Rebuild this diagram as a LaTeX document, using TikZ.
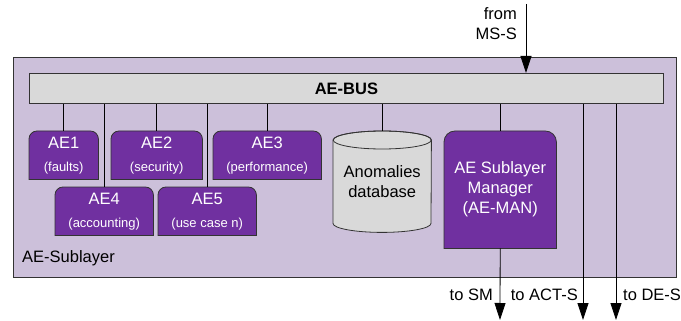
\documentclass[tikz,border=0pt]{standalone}
\usepackage{fontspec}
\setmainfont{Liberation Sans}
\usetikzlibrary{arrows.meta,calc}
\definecolor{sublayer}{RGB}{204,192,218}
\definecolor{busgray}{RGB}{217,217,217}
\definecolor{aepurple}{RGB}{112,48,160}
\newcommand{\aebig}{\fontsize{16.5}{20}\selectfont}
\newcommand{\aesmall}{\fontsize{13}{16}\selectfont}
\pgfdeclarelayer{bg}
\pgfsetlayers{bg,main}

\begin{document}
\begin{tikzpicture}[x=1pt,y=-1pt,
  frame/.style={draw=black!80,line width=0.8pt},
  aebox/.style={anchor=north west,minimum height=48pt,inner sep=0pt,text=white,align=center,font=\aebig},
  aeshape/.style={frame,fill=aepurple},
  lbl/.style={font=\aebig,inner sep=0pt},
  wire/.style={line width=0.8pt},
  arr/.style={wire,-{Triangle[length=17pt,width=11pt]}}]
\useasboundingbox (0,0) rectangle (681,321);

\node[frame,fill=busgray,anchor=north west,minimum width=634pt,minimum height=30pt,inner sep=0pt,font=\aebig\bfseries] (bus) at (29,73) {AE-BUS};

\node[aebox,minimum width=69pt] (ae1) at (29,131) {AE1\\[3pt]\aesmall(faults)};
\node[aebox,minimum width=91pt] (ae2) at (111,131) {AE2\\[3pt]\aesmall(security)};
\node[aebox,minimum width=108pt] (ae3) at (213,131) {AE3\\[3pt]\aesmall(performance)};
\node[aebox,minimum width=98pt] (ae4) at (55,187) {AE4\\[3pt]\aesmall(accounting)};
\node[aebox,minimum width=98pt] (ae5) at (158,187) {AE5\\[3pt]\aesmall(use case n)};
\node[anchor=north west,minimum width=98pt,minimum height=101pt,inner sep=0pt,align=center,font=\aebig] (db) at (333,131) {Anomalies\\database};
\node[aebox,minimum width=112pt,minimum height=117pt] (man) at (444,131) {AE Sublayer\\Manager\\(AE-MAN)};
\node[lbl,anchor=west] (sub) at (22,258) {AE-Sublayer};

\foreach \n in {ae1,ae2,ae3,ae4,ae5,db,man}
  \draw[wire] (\n.north) -- (\n.north |- bus.south);

\coordinate (msin) at (526,4);
\coordinate (tosm) at (500,320);
\coordinate (toact) at (583,320);
\coordinate (tode) at (616,320);
\draw[arr] (msin) -- (msin |- bus.north);
\draw[arr] (man.south) -- (tosm);
\draw[arr] (toact |- bus.south) -- (toact);
\draw[arr] (tode |- bus.south) -- (tode);

\node[lbl,align=right,anchor=north east] (fromlbl) at ($(msin)+(-9,3)$) {from\\MS-S};
\node[lbl,anchor=east] (smlbl) at ($(tosm)+(-7,-25)$) {to SM};
\node[lbl,anchor=east] (actlbl) at ($(toact)+(-5,-25)$) {to ACT-S};
\node[lbl,anchor=west] (delbl) at ($(tode)+(7,-25)$) {to DE-S};

\begin{pgfonlayer}{bg}
\draw[frame,fill=sublayer] (13,57) rectangle (676,277);
\foreach \n/\r in {ae1/8,ae2/8,ae3/8,ae4/8,ae5/8,man/11}
  \draw[aeshape] (\n.south west) [rounded corners=\r pt] -- (\n.north west) -- (\n.north east) [sharp corners] -- (\n.south east) -- cycle;
\draw[frame,fill=busgray] ($(db.north west)+(0,9)$) -- ($(db.south west)+(0,-9)$)
  arc[start angle=180,end angle=360,x radius=49pt,y radius=9pt]
  -- ($(db.north east)+(0,9)$)
  arc[start angle=0,end angle=180,x radius=49pt,y radius=9pt] -- cycle;
\draw[frame] ($(db.north)+(0,9)$) ellipse[x radius=49pt,y radius=9pt];
\end{pgfonlayer}
\end{tikzpicture}
\end{document}
